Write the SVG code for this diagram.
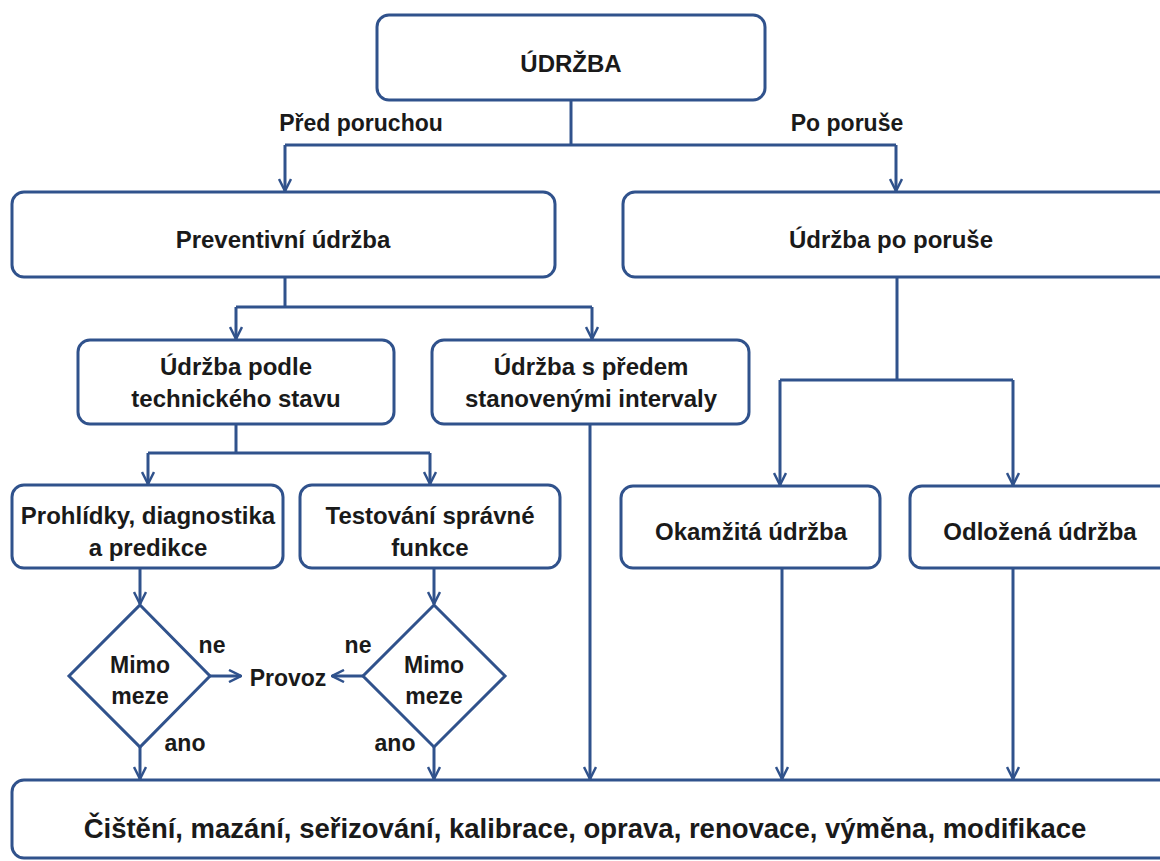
<svg xmlns="http://www.w3.org/2000/svg" width="1160" height="861" viewBox="0 0 1160 861">
<style>
.box{fill:#fff;stroke:#30528c;stroke-width:3}
.ln{fill:none;stroke:#30528c;stroke-width:3}
text{font-family:"Liberation Sans",Arial,sans-serif;font-weight:bold;fill:#1a1a1a;text-anchor:middle}
.t{font-size:24px}
.s{font-size:23px}
.b{font-size:27.5px}
</style>
<defs>
<marker id="arr" viewBox="0 0 14 14" refX="13" refY="7" markerWidth="14" markerHeight="14" orient="auto" markerUnits="userSpaceOnUse">
<path d="M1,1 L13,7 L1,13" fill="none" stroke="#30528c" stroke-width="2.5"/>
</marker>
</defs>
<rect width="1160" height="861" fill="#fff"/>
<g id="connectors">
<path class="ln" d="M571,100 V145"/>
<path class="ln" d="M285,145 H896"/>
<path class="ln" d="M285,145 V191" marker-end="url(#arr)"/>
<path class="ln" d="M896,145 V191" marker-end="url(#arr)"/>
<path class="ln" d="M285,277 V307 M236,307 H592"/>
<path class="ln" d="M236,307 V339" marker-end="url(#arr)"/>
<path class="ln" d="M592,307 V339" marker-end="url(#arr)"/>
<path class="ln" d="M236,424 V453 M148,453 H430"/>
<path class="ln" d="M148,453 V484" marker-end="url(#arr)"/>
<path class="ln" d="M430,453 V484" marker-end="url(#arr)"/>
<path class="ln" d="M897,277 V380 M780,380 H1013"/>
<path class="ln" d="M780,380 V485" marker-end="url(#arr)"/>
<path class="ln" d="M1013,380 V485" marker-end="url(#arr)"/>
<path class="ln" d="M140,568 V604" marker-end="url(#arr)"/>
<path class="ln" d="M434,568 V604" marker-end="url(#arr)"/>
<path class="ln" d="M210,676 H241" marker-end="url(#arr)"/>
<path class="ln" d="M363,676 H332" marker-end="url(#arr)"/>
<path class="ln" d="M140,747 V779" marker-end="url(#arr)"/>
<path class="ln" d="M434,747 V779" marker-end="url(#arr)"/>
<path class="ln" d="M590,424 V779" marker-end="url(#arr)"/>
<path class="ln" d="M782,568 V779" marker-end="url(#arr)"/>
<path class="ln" d="M1013,568 V779" marker-end="url(#arr)"/>
</g>
<g id="labels">
<text class="s" x="361" y="131">Před poruchou</text>
<text class="s" x="847" y="131">Po poruše</text>
<text class="s" x="212" y="653">ne</text>
<text class="s" x="358" y="653">ne</text>
<text class="s" x="185" y="751">ano</text>
<text class="s" x="395" y="751">ano</text>
<text class="s" x="288" y="686">Provoz</text>
</g>
<g id="udrzba">
<rect class="box" x="377" y="15" width="388" height="85" rx="12"/>
<text class="t" x="571" y="72">ÚDRŽBA</text>
</g>
<g id="preventivni">
<rect class="box" x="12" y="192" width="543" height="85" rx="12"/>
<text class="t" x="283" y="248">Preventivní údržba</text>
</g>
<g id="po-poruse">
<rect class="box" x="623" y="192" width="560" height="85" rx="12"/>
<text class="t" x="891" y="248">Údržba po poruše</text>
</g>
<g id="podle-stavu">
<rect class="box" x="78" y="340" width="316" height="84" rx="12"/>
<text class="t" x="236" y="375">Údržba podle</text>
<text class="t" x="236" y="407">technického stavu</text>
</g>
<g id="intervaly">
<rect class="box" x="432" y="340" width="317" height="84" rx="12"/>
<text class="t" x="591" y="375">Údržba s předem</text>
<text class="t" x="591" y="407">stanovenými intervaly</text>
</g>
<g id="prohlidky">
<rect class="box" x="12" y="485" width="271" height="83" rx="12"/>
<text class="t" x="148" y="524">Prohlídky, diagnostika</text>
<text class="t" x="148" y="556">a predikce</text>
</g>
<g id="testovani">
<rect class="box" x="300" y="485" width="260" height="83" rx="12"/>
<text class="t" x="430" y="524">Testování správné</text>
<text class="t" x="430" y="556">funkce</text>
</g>
<g id="okamzita">
<rect class="box" x="621" y="486" width="259" height="82" rx="12"/>
<text class="t" x="751" y="540">Okamžitá údržba</text>
</g>
<g id="odlozena">
<rect class="box" x="910" y="486" width="270" height="82" rx="12"/>
<text class="t" x="1040" y="540">Odložená údržba</text>
</g>
<g id="mimo-meze-1">
<path class="box" d="M140,605 L210,676 L140,747 L69,676 Z"/>
<text class="s" x="140" y="673">Mimo</text>
<text class="s" x="140" y="704">meze</text>
</g>
<g id="mimo-meze-2">
<path class="box" d="M434,605 L505,676 L434,747 L363,676 Z"/>
<text class="s" x="434" y="673">Mimo</text>
<text class="s" x="434" y="704">meze</text>
</g>
<g id="cinnosti">
<rect class="box" x="12" y="780" width="1170" height="78" rx="12"/>
<text class="b" x="585" y="838">Čištění, mazání, seřizování, kalibrace, oprava, renovace, výměna, modifikace</text>
</g>
</svg>
